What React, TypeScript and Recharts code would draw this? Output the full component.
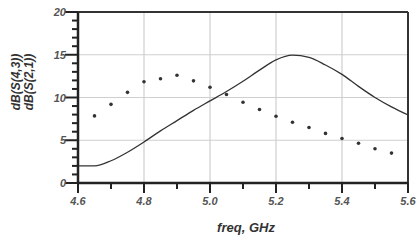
import { ComposedChart, Line, Scatter, XAxis, YAxis, CartesianGrid, ReferenceLine, Label } from 'recharts'

// dB(S(4,3)) - solid curve
const lineFreq = [4.6, 4.65, 4.7, 4.75, 4.8, 4.85, 4.9, 4.95, 5.0, 5.05, 5.1, 5.15, 5.2, 5.25, 5.3, 5.35, 5.4, 5.45, 5.5, 5.55, 5.6]
const lineDb = [2.0, 2.0, 2.6, 3.6, 4.8, 6.1, 7.3, 8.5, 9.6, 10.7, 11.9, 13.2, 14.4, 14.95, 14.7, 13.8, 12.7, 11.3, 10.0, 8.9, 7.95]

// dB(S(2,1)) - dotted markers
const dotFreq = [4.65, 4.7, 4.75, 4.8, 4.85, 4.9, 4.95, 5.0, 5.05, 5.1, 5.15, 5.2, 5.25, 5.3, 5.35, 5.4, 5.45, 5.5, 5.55]
const dotDb = [7.85, 9.2, 10.6, 11.85, 12.2, 12.6, 11.95, 11.2, 10.35, 9.45, 8.6, 7.8, 7.1, 6.5, 5.8, 5.2, 4.65, 4.0, 3.5]

const xTicks = [4.6, 4.7, 4.8, 4.9, 5.0, 5.1, 5.2, 5.3, 5.4, 5.5, 5.6]
const xGrid = [4.8, 5.0, 5.2, 5.4]
const yTicks = [0, 1, 2, 3, 4, 5, 6, 7, 8, 9, 10, 11, 12, 13, 14, 15, 16, 17, 18, 19, 20]
const yGrid = [5, 10, 15]

const lineData = lineFreq.map((f, i) => ({ f, v: lineDb[i] }))
const dotData = dotFreq.map((f, i) => ({ f, v: dotDb[i] }))

const font = '"Liberation Sans", Arial, sans-serif'
const axisColor = '#222'
const labelColor = '#555'

function XTick(props: any) {
  const { x, y, payload } = props
  const major = Math.round(payload.value * 10) % 2 === 0
  return (
    <g>
      <line x1={x} x2={x} y1={y} y2={y + (major ? 10 : 6)} stroke={axisColor} strokeWidth={2} />
      {major && (
        <text x={x} y={y + 22} textAnchor="middle" fontFamily={font} fontSize={11} fontStyle="italic" fontWeight="bold" fill={labelColor}>
          {payload.value.toFixed(1)}
        </text>
      )}
    </g>
  )
}

function YTick(props: any) {
  const { x, y, payload } = props
  const major = payload.value % 5 === 0
  return (
    <g>
      <line x1={x} x2={x - (major ? 13 : 6)} y1={y} y2={y} stroke={axisColor} strokeWidth={2} />
      {major && (
        <text x={x - 12} y={y + 4} textAnchor="end" fontFamily={font} fontSize={11} fontStyle="italic" fontWeight="bold" fill={labelColor}>
          {payload.value}
        </text>
      )}
    </g>
  )
}

const yTitle = () => (
  <g fontFamily={font} fontSize={12} fontStyle="italic" fontWeight="bold" fill="#333">
    <text transform="translate(20, 82) rotate(-90)" textAnchor="middle">dB(S(4,3))</text>
    <text transform="translate(33, 82) rotate(-90)" textAnchor="middle">dB(S(2,1))</text>
  </g>
)

const xTitle = () => (
  <text x={246} y={232} textAnchor="middle" fontFamily={font} fontSize={13} fontStyle="italic" fontWeight="bold" fill="#333">
    freq, GHz
  </text>
)

const Dot = (props: any) => <circle cx={props.cx} cy={props.cy} r={1.8} fill="#333" />

export default function App() {
  return (
    <div style={{ position: 'absolute', left: 0, top: 0, width: 420, height: 240, background: '#fff' }}>
      <ComposedChart width={420} height={240} margin={{ top: 12, right: 12, bottom: 0, left: 0 }}>
        <CartesianGrid horizontalValues={yGrid} verticalValues={xGrid} stroke="#cfcfcf" strokeWidth={1.2} />
        <XAxis
          type="number"
          dataKey="f"
          domain={[4.6, 5.6]}
          ticks={xTicks}
          interval={0}
          height={57}
          tickSize={0}
          tickMargin={0}
          tickLine={false}
          tick={<XTick />}
          axisLine={{ stroke: axisColor, strokeWidth: 2.5 }}
          allowDataOverflow
        >
          <Label content={xTitle} />
        </XAxis>
        <YAxis
          type="number"
          domain={[0, 20]}
          ticks={yTicks}
          interval={0}
          width={78}
          tickSize={0}
          tickMargin={0}
          tickLine={false}
          tick={<YTick />}
          axisLine={{ stroke: axisColor, strokeWidth: 2.5 }}
        >
          <Label content={yTitle} />
        </YAxis>
        <ReferenceLine y={20} stroke="#333" strokeWidth={2} />
        <ReferenceLine x={5.6} stroke="#333" strokeWidth={2} />
        <Line data={lineData} dataKey="v" type="monotone" stroke="#333" strokeWidth={1.3} dot={false} isAnimationActive={false} />
        <Scatter data={dotData} dataKey="v" shape={<Dot />} isAnimationActive={false} />
      </ComposedChart>
    </div>
  )
}
